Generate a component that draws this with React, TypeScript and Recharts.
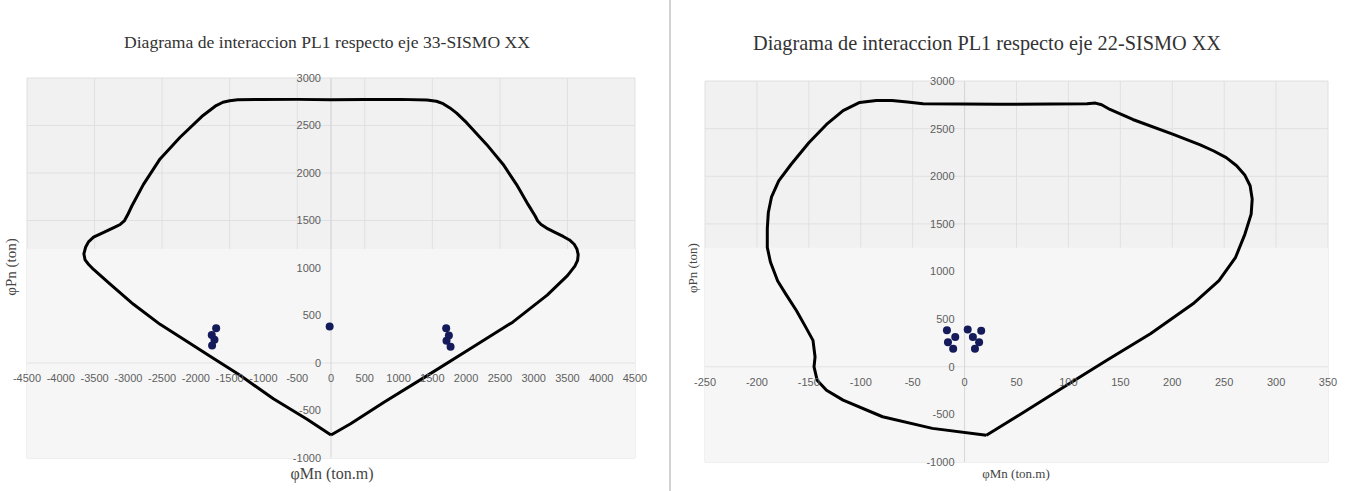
import {
  ComposedChart,
  Line,
  Scatter,
  XAxis,
  YAxis,
  CartesianGrid,
  ReferenceArea,
  ReferenceLine,
  ReferenceDot
} from "recharts"

const SERIF = '"Liberation Serif", "Times New Roman", serif'
const SANS = '"Liberation Sans", Arial, sans-serif'
const TICK = "#5f5f5f"

// eje 33: envelope [φMn (ton.m), φPn (ton)], from the bottom vertex round the loop
const curve33: [number, number][] = [
  [0, -758], [290, -640], [790, -410], [1430, -130], [2060, 150], [2690, 430],
  [3200, 715], [3500, 920], [3610, 1020], [3650, 1080], [3659, 1140], [3640, 1200],
  [3600, 1250], [3530, 1295], [3437, 1332], [3300, 1380], [3191, 1420], [3110, 1458],
  [3060, 1495], [3020, 1550], [2919, 1667], [2747, 1878], [2549, 2090], [2303, 2301],
  [2007, 2530], [1860, 2630], [1760, 2685], [1660, 2730], [1560, 2755], [1420, 2768],
  [1020, 2775], [500, 2775], [0, 2772], [-500, 2775], [-1020, 2775], [-1380, 2770],
  [-1500, 2760], [-1600, 2745], [-1700, 2710], [-1894, 2606], [-2234, 2376], [-2530, 2148],
  [-2776, 1880], [-2950, 1650], [-3010, 1560], [-3060, 1495], [-3120, 1458], [-3200, 1430],
  [-3380, 1370], [-3515, 1324], [-3590, 1275], [-3633, 1218], [-3658, 1148], [-3640, 1085],
  [-3590, 1040], [-3515, 985], [-3269, 830], [-2924, 618], [-2530, 407], [-2136, 230],
  [-1790, 72], [-1346, -130], [-853, -377], [-360, -589], [0, -758]
]
const demand33: [number, number][] = [
  [-1700, 365], [-1765, 295], [-1725, 245], [-1760, 185], [-20, 385],
  [1705, 365], [1745, 290], [1710, 235], [1770, 170]
]

// eje 22
const curve22: [number, number][] = [
  [21, -720], [55, -490], [96, -211], [137, 68], [179, 347], [220, 661], [245, 905],
  [261, 1149], [270, 1393], [276, 1602], [277, 1760], [275, 1900], [270, 2010], [262, 2110],
  [252, 2195], [240, 2265], [227, 2330], [201, 2439], [162, 2596], [140, 2701], [132, 2750],
  [126, 2768], [118, 2762], [34, 2755], [-40, 2760], [-55, 2780], [-70, 2795], [-85, 2796],
  [-101, 2775], [-117, 2690], [-133, 2544], [-150, 2352], [-167, 2126], [-179, 1951],
  [-186, 1780], [-189, 1620], [-190, 1450], [-190, 1253], [-187, 1100], [-180, 900],
  [-172, 760], [-162, 591], [-153, 416], [-146, 277], [-144, 103], [-145, -2], [-142, -141],
  [-133, -246], [-117, -350], [-79, -525], [-31, -647], [21, -720]
]
const demand22: [number, number][] = [
  [-17, 382], [-9, 312], [-16, 256], [-11, 190],
  [3, 392], [16, 379], [8, 312], [14, 256], [10, 190]
]

const xTicks33 = [-4500, -4000, -3500, -3000, -2500, -2000, -1500, -1000, -500, 0, 500, 1000, 1500, 2000, 2500, 3000, 3500, 4000, 4500]
const xTicks22 = [-250, -200, -150, -100, -50, 0, 50, 100, 150, 200, 250, 300, 350]
const yTicks = [-1000, -500, 0, 500, 1000, 1500, 2000, 2500, 3000]

const toPts = (arr: [number, number][]) => arr.map(([m, p]) => ({ m, p }))

type Props = {
  curve: [number, number][]
  demand: [number, number][]
  xTicks: number[]
  width: number
  height: number
  margin: { top: number; right: number; bottom: number; left: number }
  lowFrom: number
}

function Interaction({ curve, demand, xTicks, width, height, margin, lowFrom }: Props) {
  const xDomain = [xTicks[0], xTicks[xTicks.length - 1]]
  return (
    <ComposedChart width={width} height={height} margin={margin}>
      <CartesianGrid fill="#f1f1f1" stroke="#e0e0e0" fillOpacity={1} />
      <XAxis type="number" dataKey="m" domain={xDomain} ticks={xTicks} hide />
      <YAxis type="number" dataKey="p" domain={[-1000, 3000]} ticks={yTicks} hide />
      {/* the lower half of the source image is washed out: lighter, no grid */}
      <ReferenceArea x1={xDomain[0]} x2={xDomain[1]} y1={-1000} y2={lowFrom} fill="#f6f6f6" fillOpacity={1} stroke="none" />
      <ReferenceLine y={0} stroke="#e3e3e3" />
      <ReferenceLine x={0} stroke="#d6d6d6" />
      {yTicks.map((v) => (
        <ReferenceDot key={"y" + v} x={0} y={v} r={0} stroke="none"
          label={{ value: String(v), position: "left", offset: 10, fill: TICK, stroke: "none", fontSize: 11 }} />
      ))}
      {xTicks.map((v) => (
        <ReferenceDot key={"x" + v} x={v} y={0} r={0} stroke="none"
          label={{ value: String(v), position: "bottom", offset: 11, fill: TICK, stroke: "none", fontSize: 11 }} />
      ))}
      <Line data={toPts(curve)} dataKey="p" type="linear" stroke="#000" strokeWidth={3}
        strokeLinejoin="round" dot={false} activeDot={false} isAnimationActive={false} />
      <Scatter data={toPts(demand)} fill="#141a5a" isAnimationActive={false}
        shape={(p: any) => <circle cx={p.cx} cy={p.cy} r={4} fill="#141a5a" />} />
    </ComposedChart>
  )
}

export default function App() {
  return (
    <div style={{ position: "absolute", left: 0, top: 0, width: 1351, height: 491, background: "#fff", fontFamily: SANS, overflow: "hidden" }}>
      <div style={{ position: "absolute", left: 0, top: 0 }}>
        <Interaction curve={curve33} demand={demand33} xTicks={xTicks33} width={660} height={491}
          margin={{ top: 78, right: 25, bottom: 33, left: 27 }} lowFrom={1200} />
      </div>
      <div style={{ position: "absolute", left: 680, top: 0 }}>
        <Interaction curve={curve22} demand={demand22} xTicks={xTicks22} width={671} height={491}
          margin={{ top: 81, right: 23, bottom: 29, left: 25 }} lowFrom={1250} />
      </div>

      <div style={{ position: "absolute", left: 669, top: 0, width: 2, height: 491, background: "#d2d2d2" }} />

      <div style={{ position: "absolute", left: 27, width: 600, top: 31, textAlign: "center", fontFamily: SERIF, fontSize: 17.6, lineHeight: "22px", color: "#333" }}>
        Diagrama de interaccion PL1 respecto eje 33-SISMO XX
      </div>
      <div style={{ position: "absolute", left: 687, width: 600, top: 31, textAlign: "center", fontFamily: SERIF, fontSize: 20.3, lineHeight: "24px", color: "#333" }}>
        Diagrama de interaccion PL1 respecto eje 22-SISMO XX
      </div>

      <div style={{ position: "absolute", left: 11 - 50, top: 267 - 10, width: 100, height: 20, lineHeight: "20px", textAlign: "center", transform: "rotate(-90deg)", fontFamily: SERIF, fontSize: 15, color: "#444" }}>
        φPn (ton)
      </div>
      <div style={{ position: "absolute", left: 693 - 50, top: 268 - 10, width: 100, height: 20, lineHeight: "20px", textAlign: "center", transform: "rotate(-90deg)", fontFamily: SERIF, fontSize: 13, color: "#444" }}>
        φPn (ton)
      </div>
      <div style={{ position: "absolute", left: 332 - 75, top: 464, width: 150, lineHeight: "20px", textAlign: "center", fontFamily: SERIF, fontSize: 16, color: "#444" }}>
        φMn (ton.m)
      </div>
      <div style={{ position: "absolute", left: 1016 - 75, top: 464, width: 150, lineHeight: "20px", textAlign: "center", fontFamily: SERIF, fontSize: 13, color: "#444" }}>
        φMn (ton.m)
      </div>
    </div>
  )
}
